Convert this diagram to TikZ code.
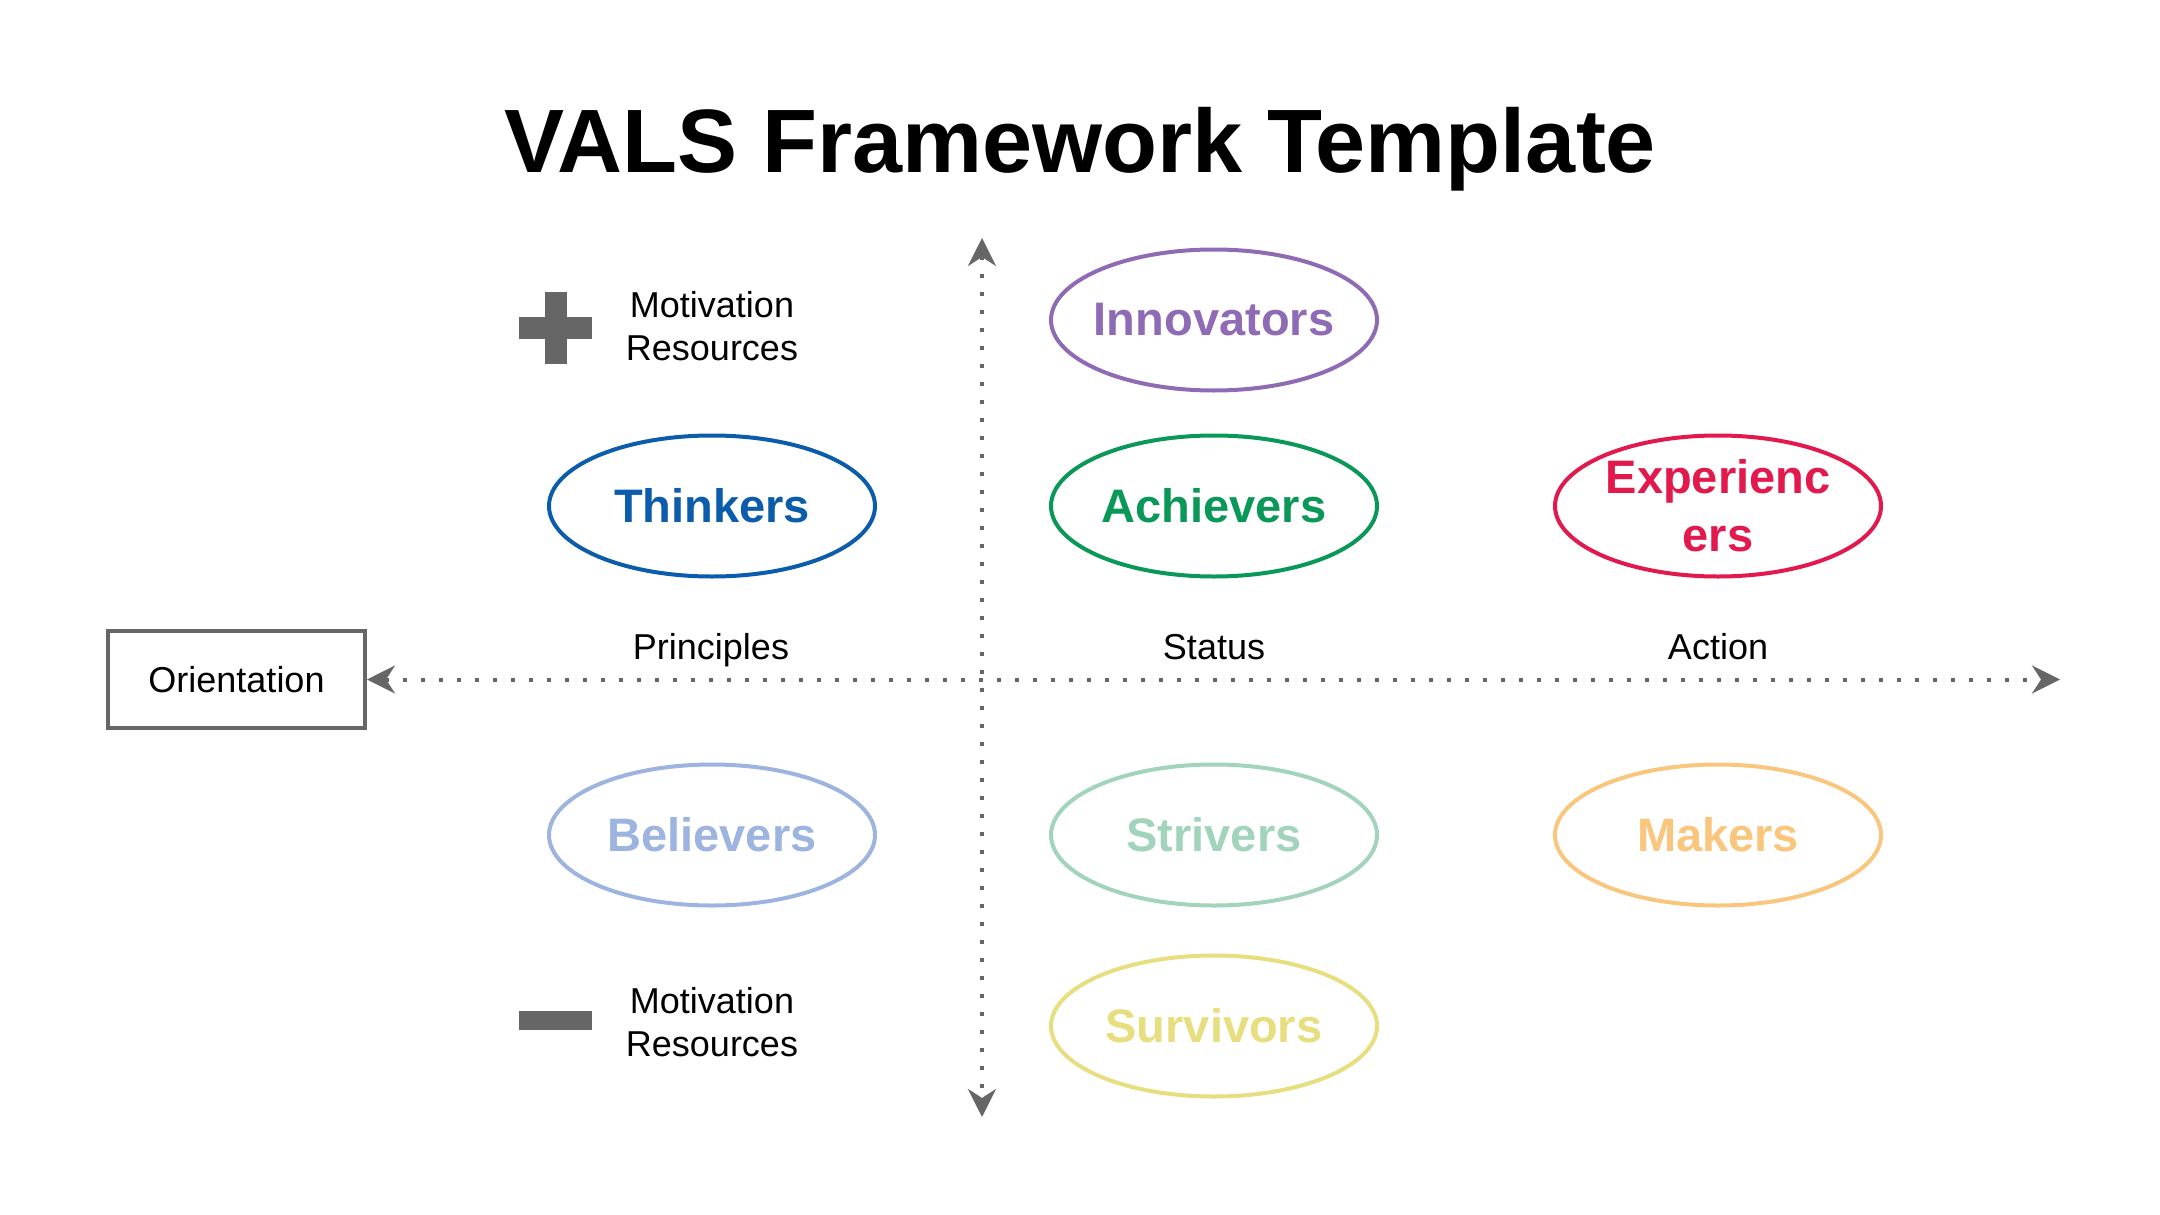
\documentclass[tikz,border=0pt]{standalone}
\usepackage{fontspec}
\setmainfont{Liberation Sans}
\usetikzlibrary{shapes.geometric,arrows.meta}
\definecolor{axisgray}{HTML}{666666}
\definecolor{cInnov}{HTML}{8E6BB4}
\definecolor{cThink}{HTML}{0B5CAA}
\definecolor{cAchie}{HTML}{0A9858}
\definecolor{cExper}{HTML}{E2194D}
\definecolor{cBelie}{HTML}{9DB3E0}
\definecolor{cStriv}{HTML}{A2D4BC}
\definecolor{cMaker}{HTML}{FAC67D}
\definecolor{cSurvi}{HTML}{E7DE7F}
\begin{document}
\begin{tikzpicture}[x=1pt,y=-1pt,
  oval/.style={ellipse, draw=#1, text=#1, line width=4pt, minimum width=326pt,
    minimum height=141pt, inner xsep=-30pt, inner ysep=-10pt, align=center,
    font=\fontsize{47}{58}\selectfont\bfseries},
  lbl/.style={font=\fontsize{36}{43}\selectfont, align=center, inner sep=0pt},
  axisline/.style={draw=axisgray, line width=4pt, dash pattern=on 4pt off 14pt,
    {Stealth[length=28pt,width=28pt,inset=9pt]}-{Stealth[length=28pt,width=28pt,inset=9pt]}}]
\useasboundingbox (0,0) rectangle (2160,1215);

% title
\node[anchor=base, inner sep=0pt, font=\fontsize{90}{108}\selectfont\bfseries] (title) at (1080,172) {VALS Framework Template};

% orientation box and axes
\node[draw=axisgray, line width=4pt, minimum width=257pt, minimum height=97pt, inner sep=0pt,
  font=\fontsize{36}{43}\selectfont] (orient) at (236.5,679.5) {Orientation};
\coordinate (hend) at (2060,679.5);
\coordinate (vtop) at (982,238);
\coordinate (vbot) at (982,1117);
\draw[axisline] (orient.east) -- (hend);
\draw[axisline] (vtop) -- (vbot);

% axis labels
\node[lbl, anchor=base] (princ) at (711,659) {Principles};
\node[lbl, anchor=base] (status) at (1214,659) {Status};
\node[lbl, anchor=base] (action) at (1718,659) {Action};

% legend
\fill[axisgray] (519,317) rectangle (592,339);
\fill[axisgray] (545,292) rectangle (567,364);
\node[lbl] (legplus) at (712,326) {Motivation\\Resources};
\fill[axisgray] (519,1011) rectangle (592,1030);
\node[lbl] (legminus) at (712,1022) {Motivation\\Resources};

% ellipses
\node[oval=cInnov] (innov) at (1214,320) {Innovators};
\node[oval=cThink] (think) at (712,506) {Thinkers};
\node[oval=cAchie] (achie) at (1214,506) {Achievers};
\node[oval=cExper] (exper) at (1718,506) {Experienc\\ers};
\node[oval=cBelie] (belie) at (712,835) {Believers};
\node[oval=cStriv] (striv) at (1214,835) {Strivers};
\node[oval=cMaker] (maker) at (1718,835) {Makers};
\node[oval=cSurvi] (survi) at (1214,1026) {Survivors};
\end{tikzpicture}
\end{document}
